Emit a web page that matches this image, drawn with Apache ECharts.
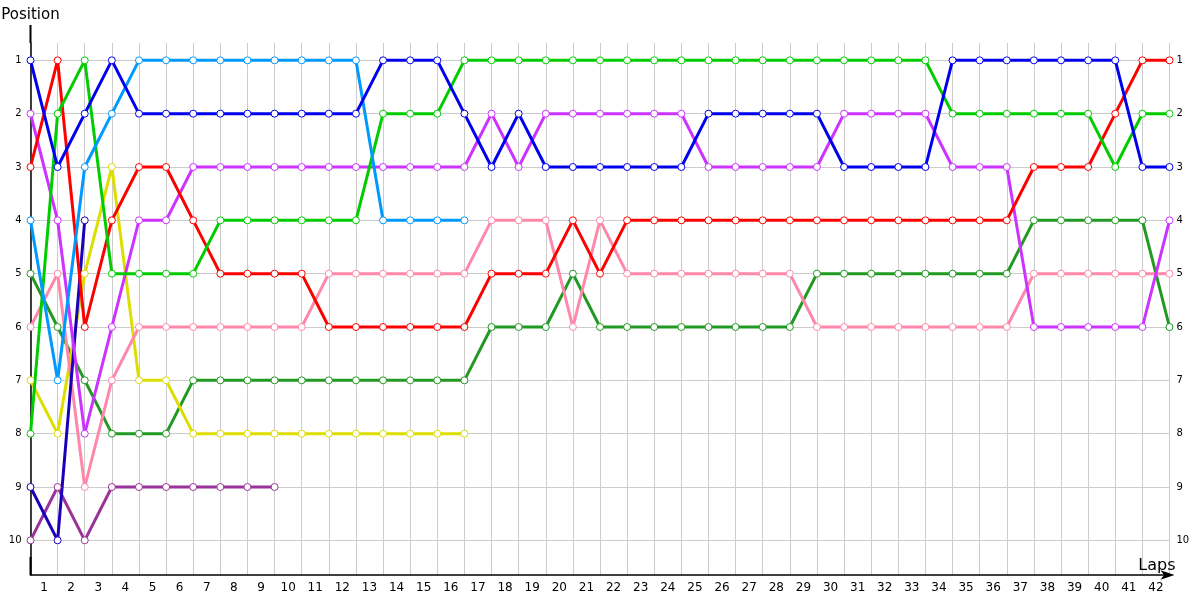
<!DOCTYPE html>
<html>
<head>
<meta charset="utf-8">
<title>Positions by lap</title>
<script src="https://cdn.jsdelivr.net/npm/echarts@6/dist/echarts.min.js"></script>
<style>
  html, body { margin: 0; padding: 0; background: #fff; }
  #chart { width: 1200px; height: 600px; }
</style>
</head>
<body>
<div id="chart"></div>
<script>
// lap numbers shown under the axis
var lapLabels = [];
for (var n = 1; n <= 42; n++) lapLabels.push(String(n));
var positionTicks = [1, 2, 3, 4, 5, 6, 7, 8, 9, 10];

// position of each driver per lap (index = lap 0..42), null = retired
var blueCar = [1, 3, 2, 1, 2, 2, 2, 2, 2, 2, 2, 2, 2, 1, 1, 1, 2, 3, 2, 3, 3, 3, 3, 3, 3, 2, 2, 2, 2, 2, 3, 3, 3, 3, 1, 1, 1, 1, 1, 1, 1, 3, 3];
var redCar = [3, 1, 6, 4, 3, 3, 4, 5, 5, 5, 5, 6, 6, 6, 6, 6, 6, 5, 5, 5, 4, 5, 4, 4, 4, 4, 4, 4, 4, 4, 4, 4, 4, 4, 4, 4, 4, 3, 3, 3, 2, 1, 1];
var greenCar = [8, 2, 1, 5, 5, 5, 5, 4, 4, 4, 4, 4, 4, 2, 2, 2, 1, 1, 1, 1, 1, 1, 1, 1, 1, 1, 1, 1, 1, 1, 1, 1, 1, 1, 2, 2, 2, 2, 2, 2, 3, 2, 2];
var skyCar = [4, 7, 3, 2, 1, 1, 1, 1, 1, 1, 1, 1, 1, 4, 4, 4, 4];
var violetCar = [2, 4, 8, 6, 4, 4, 3, 3, 3, 3, 3, 3, 3, 3, 3, 3, 3, 2, 3, 2, 2, 2, 2, 2, 2, 3, 3, 3, 3, 3, 2, 2, 2, 2, 3, 3, 3, 6, 6, 6, 6, 6, 4];
var pinkCar = [6, 5, 9, 7, 6, 6, 6, 6, 6, 6, 6, 5, 5, 5, 5, 5, 5, 4, 4, 4, 6, 4, 5, 5, 5, 5, 5, 5, 5, 6, 6, 6, 6, 6, 6, 6, 6, 5, 5, 5, 5, 5, 5];
var darkGreenCar = [5, 6, 7, 8, 8, 8, 7, 7, 7, 7, 7, 7, 7, 7, 7, 7, 7, 6, 6, 6, 5, 6, 6, 6, 6, 6, 6, 6, 6, 5, 5, 5, 5, 5, 5, 5, 5, 4, 4, 4, 4, 4, 6];
var yellowCar = [7, 8, 5, 3, 7, 7, 8, 8, 8, 8, 8, 8, 8, 8, 8, 8, 8];
var navyCar = [9, 10, 4];
var plumCar = [10, 9, 10, 9, 9, 9, 9, 9, 9, 9];

var cars = [
  { data: darkGreenCar, color: "#229922" },
  { data: yellowCar, color: "#dddd00" },
  { data: pinkCar, color: "#ff88aa" },
  { data: plumCar, color: "#993399" },
  { data: navyCar, color: "#1a00b8" },
  { data: violetCar, color: "#cc33ff" },
  { data: redCar, color: "#ff0000" },
  { data: greenCar, color: "#00cc00" },
  { data: skyCar, color: "#0099ff" },
  { data: blueCar, color: "#0000ee" }
];

var series = cars.map(function (car) {
  var pts = [];
  car.data.forEach(function (p, lap) {
    if (p != null) pts.push([lap, p]);
  });
  return {
    type: "line",
    xAxisIndex: 0,
    yAxisIndex: 0,
    data: pts,
    symbol: "circle",
    symbolSize: 7,
    showAllSymbol: true,
    lineStyle: { color: car.color, width: 3 },
    itemStyle: { color: "#fff", borderColor: car.color, borderWidth: 1 },
    emphasis: { disabled: true }
  };
});

var chart = echarts.init(document.getElementById("chart"));
var labelFont = "DejaVu Sans";
chart.setOption({
  animation: false,
  grid: { left: 30.5, right: 30.5, top: 43, bottom: 25, containLabel: false, outerBoundsMode: "none" },
  xAxis: [
    {
      type: "value",
      min: 0,
      max: 42,
      interval: 1,
      name: "Laps",
      nameLocation: "end",
      nameGap: 6,
      nameTextStyle: { color: "#000", fontSize: 16, fontFamily: labelFont, align: "right", verticalAlign: "bottom", padding: [0, 0, 1, 0] },
      axisLine: { show: true, lineStyle: { color: "#000", width: 1.5 }, symbol: ["none", "arrow"], symbolSize: [7, 14], symbolOffset: [0, 5] },
      axisTick: { show: false },
      axisLabel: { show: false },
      splitLine: { show: true, lineStyle: { color: "#cccccc", width: 1 } }
    },
    {
      type: "category",
      data: lapLabels,
      boundaryGap: true,
      position: "bottom",
      axisLine: { show: false },
      axisTick: { show: false },
      splitLine: { show: false },
      axisLabel: { interval: 0, color: "#000", fontSize: 12, fontFamily: labelFont, margin: 7 }
    }
  ],
  yAxis: [
    {
      type: "value",
      inverse: true,
      min: 0.675,
      max: 10.65,
      name: "Position",
      nameLocation: "start",
      nameGap: 20,
      nameTextStyle: { color: "#000", fontSize: 15, fontFamily: labelFont },
      axisLine: { show: true, lineStyle: { color: "#000", width: 1.5 }, symbol: ["rect", "rect"], symbolSize: [2, 18], symbolOffset: [9, 9] },
      axisTick: { show: false, customValues: positionTicks },
      axisLabel: { customValues: positionTicks, color: "#000", fontSize: 10, fontFamily: labelFont, margin: 9 },
      splitLine: { show: true, lineStyle: { color: "#cccccc", width: 1 } }
    },
    {
      type: "value",
      inverse: true,
      min: 0.675,
      max: 10.65,
      position: "right",
      axisLine: { show: false },
      axisTick: { show: false, customValues: positionTicks },
      axisLabel: { customValues: positionTicks, color: "#000", fontSize: 10, fontFamily: labelFont, margin: 7 },
      splitLine: { show: false }
    }
  ],
  series: series
});
</script>
</body>
</html>
